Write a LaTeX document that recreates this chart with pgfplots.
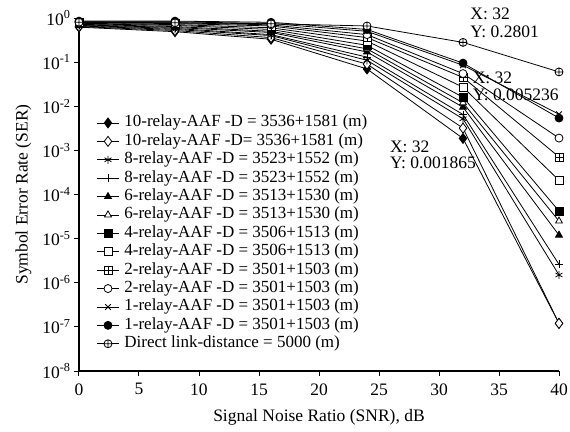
\documentclass[border=0pt]{standalone}
\usepackage{fontspec}
\setmainfont{Liberation Serif}
\usepackage{pgfplots}
\pgfplotsset{compat=1.18}

% square with a plus inside (not a built-in mark)
\pgfdeclareplotmark{boxplus}{%
  \pgfpathrectangle{\pgfqpoint{-\pgfplotmarksize}{-\pgfplotmarksize}}{\pgfqpoint{2\pgfplotmarksize}{2\pgfplotmarksize}}%
  \pgfusepathqfillstroke
  \pgfpathmoveto{\pgfqpoint{-\pgfplotmarksize}{0pt}}\pgfpathlineto{\pgfqpoint{\pgfplotmarksize}{0pt}}%
  \pgfpathmoveto{\pgfqpoint{0pt}{-\pgfplotmarksize}}\pgfpathlineto{\pgfqpoint{0pt}{\pgfplotmarksize}}%
  \pgfusepathqstroke}

\begin{document}
\begin{tikzpicture}
\begin{axis}[
  name=ax, scale only axis, width=480pt, height=353pt,
  xmin=0, xmax=40, ymode=log, ymin=1e-8, ymax=1,
  axis x line*=bottom, axis y line*=left,
  axis line style={line width=1.3pt, -},
  tick align=outside, major tick length=5pt,
  tick style={line width=1pt, black},
  xtick={0,5,...,40},
  ytick={1e-8,1e-7,1e-6,1e-5,1e-4,1e-3,1e-2,1e-1,1},
  yticklabels={10\textsuperscript{-8},10\textsuperscript{-7},10\textsuperscript{-6},10\textsuperscript{-5},10\textsuperscript{-4},10\textsuperscript{-3},10\textsuperscript{-2},10\textsuperscript{-1},10\textsuperscript{0}},
  yminorticks=false,
  font=\fontsize{17.5}{20}\selectfont,
  xticklabel style={/pgf/number format/assume math mode=true, yshift=-4pt},
  xlabel={Signal Noise Ratio (SNR), dB},
  xlabel style={yshift=-7pt},
  ylabel={Symbol Error Rate (SER)},
  ylabel style={yshift=4pt},
  every axis plot/.append style={black, line width=0.8pt, mark size=4pt},
  legend cell align=left,
  legend style={draw=none, fill=none, at={(rel axis cs:0.03,0.735)}, anchor=north west,
    font=\fontsize{17}{20}\selectfont,
    row sep=0pt, nodes={text height=11pt, text depth=3pt, inner ysep=2.2pt},
    /tikz/every odd column/.append style={column sep=3pt}},
  legend image code/.code={\draw[mark repeat=2,mark phase=2] plot coordinates {(0pt,0pt)(11pt,0pt)(22pt,0pt)};},
  clip=false,
]
\addplot[mark=diamond*, mark size=5pt] coordinates {(0,0.62)(8,0.49)(16,0.33)(24,0.07)(32,0.001865)(40,1.2e-7)};
\addlegendentry{10-relay-AAF -D = 3536+1581 (m)}
\addplot[mark=diamond*, mark size=5pt, mark options={fill=white}] coordinates {(0,0.64)(8,0.52)(16,0.36)(24,0.09)(32,0.0032)(40,1.2e-7)};
\addlegendentry{10-relay-AAF -D= 3536+1581 (m)}
\addplot[mark=asterisk] coordinates {(0,0.66)(8,0.55)(16,0.40)(24,0.11)(32,0.0052)(40,1.5e-6)};
\addlegendentry{8-relay-AAF -D = 3523+1552 (m)}
\addplot[mark=+] coordinates {(0,0.68)(8,0.58)(16,0.42)(24,0.13)(32,0.0065)(40,2.6e-6)};
\addlegendentry{8-relay-AAF -D = 3523+1552 (m)}
\addplot[mark=triangle*] coordinates {(0,0.70)(8,0.61)(16,0.47)(24,0.17)(32,0.0095)(40,1.2e-5)};
\addlegendentry{6-relay-AAF -D = 3513+1530 (m)}
\addplot[mark=triangle*, mark options={fill=white}] coordinates {(0,0.72)(8,0.64)(16,0.50)(24,0.20)(32,0.012)(40,2.5e-5)};
\addlegendentry{6-relay-AAF -D = 3513+1530 (m)}
\addplot[mark=square*] coordinates {(0,0.74)(8,0.68)(16,0.55)(24,0.24)(32,0.016)(40,4.2e-5)};
\addlegendentry{4-relay-AAF -D = 3506+1513 (m)}
\addplot[mark=square*, mark options={fill=white}] coordinates {(0,0.76)(8,0.71)(16,0.60)(24,0.30)(32,0.027)(40,2.1e-4)};
\addlegendentry{4-relay-AAF -D = 3506+1513 (m)}
\addplot[mark=boxplus, mark options={fill=white}] coordinates {(0,0.78)(8,0.75)(16,0.66)(24,0.36)(32,0.045)(40,7.1e-4)};
\addlegendentry{2-relay-AAF -D = 3501+1503 (m)}
\addplot[mark=*, mark options={fill=white}] coordinates {(0,0.80)(8,0.78)(16,0.70)(24,0.42)(32,0.055)(40,1.9e-3)};
\addlegendentry{2-relay-AAF -D = 3501+1503 (m)}
\addplot[mark=x] coordinates {(0,0.82)(8,0.82)(16,0.75)(24,0.50)(32,0.085)(40,6.6e-3)};
\addlegendentry{1-relay-AAF -D = 3501+1503 (m)}
\addplot[mark=*] coordinates {(0,0.85)(8,0.85)(16,0.80)(24,0.55)(32,0.095)(40,5.4e-3)};
\addlegendentry{1-relay-AAF -D = 3501+1503 (m)}
\addplot[mark=oplus*, mark options={fill=white}] coordinates {(0,0.80)(8,0.78)(16,0.74)(24,0.66)(32,0.2801)(40,0.060)};
\addlegendentry{Direct link-distance = 5000 (m)}

% data tips
\node[anchor=base west, inner sep=0pt] at (axis cs:32.6,0.948) {X: 32};
\node[anchor=base west, inner sep=0pt] at (axis cs:32.6,0.371) {Y: 0.2801};
\node[anchor=base west, inner sep=0pt] at (axis cs:32.8,0.0336) {X: 32};
\node[anchor=base west, inner sep=0pt] at (axis cs:32.8,0.0138) {Y: 0.005236};
\node[anchor=base west, inner sep=0pt] at (axis cs:25.9,9.1e-4) {X: 32};
\node[anchor=base west, inner sep=0pt] at (axis cs:25.9,3.8e-4) {Y: 0.001865};
\end{axis}
\pgfresetboundingbox
\path[use as bounding box] ([xshift=-79pt,yshift=-60pt]ax.south west) rectangle ([xshift=11pt,yshift=18pt]ax.north east);
\end{tikzpicture}
\end{document}
